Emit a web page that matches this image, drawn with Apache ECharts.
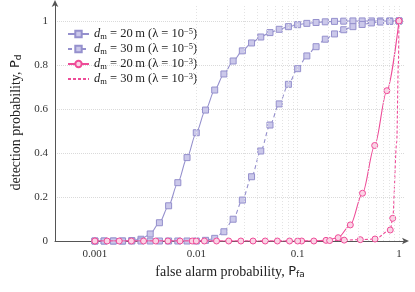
<!DOCTYPE html>
<html><head><meta charset="utf-8">
<script src="https://cdn.jsdelivr.net/npm/echarts@6/dist/echarts.min.js"></script>
<style>html,body{margin:0;padding:0;background:#fff}#c{width:415px;height:292px}</style>
</head><body><div id="c"></div>
<script>
// x positions (false alarm probability) of the square-marker curves
const xSq = [0.001,0.001233,0.00152,0.001874,0.00231,0.002848,0.003511,0.004329,0.005337,0.006579,0.008111,
  0.01,0.01233,0.0152,0.01874,0.0231,0.02848,0.03511,0.04329,0.05337,0.06579,0.08111,
  0.1,0.1233,0.152,0.1874,0.231,0.2848,0.3511,0.4329,0.5337,0.6579,0.8111,1.0];
const pd20_l5 = [0,0,0,0,0.002,0.008,0.032,0.083,0.16,0.265,0.379,
  0.492,0.595,0.686,0.759,0.818,0.864,0.9,0.927,0.947,0.962,0.974,
  0.983,0.989,0.993,0.996,0.998,0.999,1,1,1,1,1,1];
const pd30_l5 = [0,0,0,0,0,0,0,0,0,0,0,
  0,0.003,0.012,0.042,0.099,0.186,0.292,0.409,0.527,0.623,0.712,
  0.783,0.841,0.883,0.917,0.941,0.96,0.974,0.984,0.991,0.995,0.998,1.0];
// circle-marker curves
const xCi20 = [0.001,0.001318,0.001738,0.002291,0.00302,0.003981,0.005248,0.006918,0.00912,
  0.01202,0.01585,0.02089,0.02754,0.03631,0.04786,0.0631,0.08318,
  0.1096,0.1445,0.1905,0.2512,0.3311,0.4365,0.5754,0.7586,1.0];
const pd20_l3 = [0,0,0,0,0,0,0,0,0,0,0,0,0,0,0,0,0,0,0,0.003,0.015,0.073,0.217,0.434,0.683,1.0];
const xCi30 = [0.001,0.01,0.1,0.207,0.288,0.415,0.58,0.82,0.866,0.95,0.985,1.0];
const pd30_l3 = [0,0,0,0.002,0.004,0.006,0.009,0.05,0.103,0.45,0.8,1.0];
const mark30_l3 = [1,1,1,1,1,1,1,1,1,0,0,1];
// legend content
const legDm = [20,30,20,30];
const legExp = ['−5','−5','−3','−3'];
const legHasMarker = [1,1,1,0];
const seriesNames = ['s1','s2','s3','s4'];
// ticks
const xTickVals = [0.001,0.01,0.1,1];
const xTickLabels = ['0.001','0.01','0.1','1'];
const yTickVals = [0,0.2,0.4,0.6,0.8,1];
const yTickLabels = ['0','0.2','0.4','0.6','0.8','1'];
const xGridVals = [0.001,0.002,0.003,0.004,0.005,0.006,0.007,0.008,0.009,
  0.01,0.02,0.03,0.04,0.05,0.06,0.07,0.08,0.09,
  0.1,0.2,0.3,0.4,0.5,0.6,0.7,0.8,0.9,1];

const PURPLE = '#9590cd', PURPLE_FILL = '#cbc8ea', PINK = '#ee4c98', PINK_FILL = '#fbd3e5';
const SERIF = '"Liberation Serif", "DejaVu Serif", serif';
const SANS = '"DejaVu Sans", "Liberation Sans", sans-serif';

function pairs(xs, ys){ return xs.map((x,i)=>[x, ys[i]]); }

const chart = echarts.init(document.getElementById('c'), null, {renderer:'canvas'});
const rich = {
  i:{fontFamily:SERIF, fontStyle:'italic', fontSize:12.5, color:'#222'},
  s:{fontFamily:SERIF, fontSize:8.5, color:'#222', verticalAlign:'bottom', padding:[4,0,0,0]},
  t:{fontFamily:SERIF, fontSize:12.5, color:'#222'},
  p:{fontFamily:SERIF, fontSize:8.5, color:'#222', verticalAlign:'top', padding:[0,0,5,0]}
};
chart.setOption({
  animation:false,
  grid:{left:55, right:10, top:4, bottom:51, containLabel:false},
  legend:{
    left:62, top:22, orient:'vertical', itemWidth:21, itemHeight:8, itemGap:1,
    data:seriesNames.map((n,k)=> legHasMarker[k] ? {name:n} :
      {name:n, itemStyle:{color:'rgba(0,0,0,0)', borderColor:'rgba(0,0,0,0)', borderWidth:0, opacity:0}}),
    formatter:(name)=>{
      const k = seriesNames.indexOf(name);
      return '{i|d}{s|m}{t| = ' + legDm[k] + '\u2009m (λ = 10}{p|' + legExp[k] + '}{t|)}';
    },
    textStyle:{rich:rich, fontFamily:SERIF, fontSize:12.5}
  },
  xAxis:{
    type:'log', logBase:10, min:0.000404, max:1.146,
    axisLine:{show:true, lineStyle:{color:'#555', width:1}, symbol:['none','arrow'], symbolSize:[5,7], symbolOffset:[0,4]},
    axisTick:{show:false},
    splitLine:{show:false},
    axisLabel:{margin:8, fontFamily:SERIF, fontSize:11, color:'#333', showMinLabel:false, showMaxLabel:false,
      formatter:(v)=>{ for (let i=0;i<xTickVals.length;i++){ if (Math.abs(Math.log10(v)-Math.log10(xTickVals[i]))<1e-6) return xTickLabels[i]; } return ''; }},
    name:'{t|false alarm probability, }{P|P}{f|fa}',
    nameLocation:'middle', nameGap:20,
    nameTextStyle:{rich:{
      t:{fontFamily:SERIF, fontSize:14, color:'#222'},
      P:{fontFamily:SANS, fontSize:13, color:'#222'},
      f:{fontFamily:SANS, fontSize:9, color:'#222', verticalAlign:'bottom', padding:[6,0,0,0]}
    }}
  },
  yAxis:{
    type:'value', min:0, max:1.077, interval:0.2,
    axisLine:{show:true, lineStyle:{color:'#555', width:1}, symbol:['none','arrow'], symbolSize:[5,7], symbolOffset:[0,4]},
    axisTick:{show:false},
    splitLine:{show:true, showMaxLine:false, showMinLine:false, lineStyle:{color:'#dadada', type:'dotted', width:1}},
    axisLabel:{margin:7, fontFamily:SERIF, fontSize:11, color:'#333', showMaxLabel:false,
      formatter:(v)=>{ for (let i=0;i<yTickVals.length;i++){ if (Math.abs(v-yTickVals[i])<1e-6) return yTickLabels[i]; } return ''; }},
    name:'{t|detection probability, }{P|P}{f|d}',
    nameLocation:'middle', nameGap:30,
    nameTextStyle:{rich:{
      t:{fontFamily:SERIF, fontSize:14, color:'#222'},
      P:{fontFamily:SANS, fontSize:13, color:'#222'},
      f:{fontFamily:SANS, fontSize:9, color:'#222', verticalAlign:'bottom', padding:[6,0,0,0]}
    }}
  },
  series:[
    {type:'line', name:'grid', data:[], silent:true, z:1,
      markLine:{silent:true, symbol:['none','none'], label:{show:false},
        lineStyle:{color:'#e3e3e3', type:[1,2], width:1},
        data:xGridVals.map(v=>({xAxis:v}))}},
    {type:'line', name:seriesNames[0], data:pairs(xSq,pd20_l5), smooth:0.3, smoothMonotone:'x',
      symbol:'rect', symbolSize:6, z:3,
      lineStyle:{color:PURPLE, width:1.1}, itemStyle:{color:PURPLE_FILL, borderColor:PURPLE, borderWidth:1}},
    {type:'line', name:seriesNames[1], data:pairs(xSq,pd30_l5), smooth:0.3, smoothMonotone:'x',
      symbol:'rect', symbolSize:6, z:3,
      lineStyle:{color:PURPLE, width:1.1, type:[4,3]}, itemStyle:{color:PURPLE_FILL, borderColor:PURPLE, borderWidth:1}},
    {type:'line', name:seriesNames[2], data:pairs(xCi20,pd20_l3), smooth:0.3, smoothMonotone:'x',
      symbol:'circle', symbolSize:6, z:4,
      lineStyle:{color:PINK, width:1.1}, itemStyle:{color:PINK_FILL, borderColor:PINK, borderWidth:1}},
    {type:'line', name:seriesNames[3], smooth:0.3, smoothMonotone:'x',
      data:xCi30.map((x,i)=>({value:[x,pd30_l3[i]], symbol: mark30_l3[i] ? 'circle' : 'none', symbolSize:6})),
      symbol:'none', showSymbol:true, z:4,
      lineStyle:{color:PINK, width:1.1, type:[3,2]}, itemStyle:{color:PINK_FILL, borderColor:PINK, borderWidth:1}}
  ]
});
</script></body></html>
